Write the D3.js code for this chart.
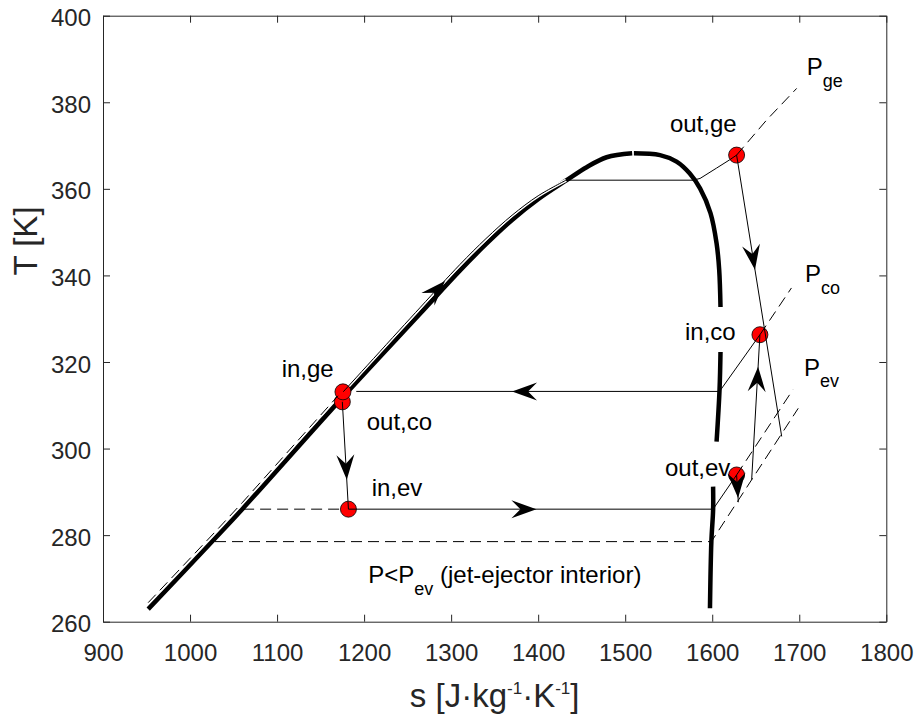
<!DOCTYPE html>
<html lang="en">
<head>
<meta charset="UTF-8">
<title>T-s diagram of the jet-ejector cycle</title>
<script src="https://d3js.org/d3.v7.min.js"></script>
<style>
  body { margin: 0; background: #fff; }
  svg text { font-family: "Liberation Sans", Arial, Helvetica, sans-serif; }
  .axis .domain, .axis line { stroke: #262626; stroke-width: 1; }
  .axis text { font-size: 24px; fill: #262626; }
</style>
</head>
<body>
<svg width="920" height="719"></svg>
<script>
// ---- data, s in J/(kg K), T in K ----
const sTicks = [900, 1000, 1100, 1200, 1300, 1400, 1500, 1600, 1700, 1800];
const tTicks = [260, 280, 300, 320, 340, 360, 380, 400];

// saturation dome (null = gap in the curve)
const satLiquid = [[951.9,262.9],[1030,279.5],[1060,286.0],[1176,312.0],[1264,331.1],[1310,341.1],[1340,347.2],
                   [1370,352.8],[1400,357.6],[1432.7,362.0],[1455.7,365.0],[1478.7,367.3],[1508,368.2]];
const satVapor = [[1510,368.2],[1540,367.8],[1559,366.3],[1574,363.6],[1586,360.1],[1598,354.4],[1605,347.4],
                  [1608,341.3],[1609.5,332.7],null,[1609.5,322.3],[1608.4,313.6],[1605,301.6],null,
                  [1601,291.2],[1601,285.8],[1599,278.5],[1597.4,263.1]];

// isobars
const pgeLiquid = [[1176,313.1],[1264,332.5],[1310,342.5],[1340,348.5],[1370,353.9],[1400,358.4],[1432,362.0]];
const pgeSolid = [[1432,362.0],[1578,362.0],[1586,362.4],[1605,364.8],[1620,366.7],[1628,367.8]];
const pgeDashed = [[1628,367.8],[1662.5,375.9],[1697,383.2]];
const liquidDashed = [[951.9,264.4],[1030,281.0],[1060,287.5],[1170,312.2]];
const pcoSolid = [[1191,313.2],[1608.4,313.2],[1654.8,326.3]];
const pcoDashed = [[1654.8,326.3],[1691,337.1]];
const pevDashedLeft = [[1061,286.0],[1172,286.0]];
const pevSolid = [[1182,286.0],[1601,286.0],[1628,293.9]];
const pevDashed = [[1628,293.9],[1692.7,313.6]];
const pLowDashed = [[1028.7,278.5],[1599,278.5],[1698.8,309.3]];

// process lines
const throttle = [[1175,310.8],[1182,286.0]];
const nozzle = [[1628,367.8],[1679.8,302.8]];
const suction = [[1628,293.9],[1630,287.6]];
const diffuser = [[1645.3,292.8],[1654.8,326.3]];

// arrow heads: tip and a point behind it on the same line
const arrows = [
  {tip:[1293,338.7], from:[1264,332.5]},
  {tip:[1649.1,341.3], from:[1628,367.8]},
  {tip:[1652.7,318.9], from:[1645.3,292.8]},
  {tip:[1180.1,292.8], from:[1175,310.8]},
  {tip:[1629.7,288.6], from:[1628,293.9]},
  {tip:[1370,313.2], from:[1450,313.2]},
  {tip:[1398,286.0], from:[1300,286.0]}
];

// cycle states (out,co first so in,ge sits on top)
const states = [
  {name:"out,co", s:1175, T:310.8},
  {name:"in,ge", s:1175.7, T:313.1},
  {name:"out,ge", s:1628, T:367.8},
  {name:"in,co", s:1654.8, T:326.3},
  {name:"in,ev", s:1182, T:286.0},
  {name:"out,ev", s:1628, T:293.9}
];

// text labels, anchored at left end of baseline
const labels = [
  {s:1551.4, T:373.2, main:"out,ge"},
  {s:1568.7, T:325.1, main:"in,co"},
  {s:1105.3, T:316.6, main:"in,ge"},
  {s:1203, T:304.2, main:"out,co"},
  {s:1208.7, T:289.0, main:"in,ev"},
  {s:1545.7, T:293.7, main:"out,ev"},
  {s:1708.5, T:386.3, main:"P", sub:"ge"},
  {s:1706.5, T:338.4, main:"P", sub:"co"},
  {s:1705.4, T:316.8, main:"P", sub:"ev"},
  {s:1204.8, T:268.9, main:"P<P", sub:"ev", tail:" (jet-ejector interior)"}
];

// ---- chart ----
const svg = d3.select("svg");
svg.append("rect").attr("width", 920).attr("height", 719).attr("fill", "#fff");

const x = d3.scaleLinear().domain([900, 1800]).range([103, 886.3]);
const y = d3.scaleLinear().domain([260, 400]).range([621.7, 15.7]);

// axes box with inward ticks
svg.append("g").attr("class", "axis")
    .attr("transform", `translate(0,${y(260)})`)
    .call(d3.axisBottom(x).tickValues(sTicks).tickFormat(d3.format("d"))
        .tickSizeInner(-7).tickSizeOuter(0).tickPadding(22));
svg.append("g").attr("class", "axis")
    .attr("transform", `translate(0,${y(400)})`)
    .call(d3.axisTop(x).tickValues(sTicks).tickSizeInner(-7).tickSizeOuter(0).tickFormat(""));
svg.append("g").attr("class", "axis y-left")
    .attr("transform", `translate(${x(900)},0)`)
    .call(d3.axisLeft(y).tickValues(tTicks).tickFormat(d3.format("d"))
        .tickSizeInner(-7).tickSizeOuter(0).tickPadding(12));
svg.selectAll(".y-left text").attr("dy", "0.42em");
svg.append("g").attr("class", "axis")
    .attr("transform", `translate(${x(1800)},0)`)
    .call(d3.axisRight(y).tickValues(tTicks).tickSizeInner(-7).tickSizeOuter(0).tickFormat(""));

// axis labels
const xl = svg.append("text")
    .attr("x", (x(900) + x(1800)) / 2).attr("y", 707)
    .attr("text-anchor", "middle").attr("font-size", 33).attr("fill", "#262626");
xl.append("tspan").text("s [J\u00b7kg");
xl.append("tspan").attr("dy", -13).attr("font-size", 17).text("-1");
xl.append("tspan").attr("dy", 13).text("\u00b7K");
xl.append("tspan").attr("dy", -13).attr("font-size", 17).text("-1");
xl.append("tspan").attr("dy", 13).text("]");

svg.append("text")
    .attr("transform", "translate(37,241) rotate(-90)")
    .attr("text-anchor", "middle").attr("font-size", 33).attr("fill", "#262626")
    .text("T [K]");

const line = d3.line()
    .defined(d => d !== null)
    .x(d => x(d[0]))
    .y(d => y(d[1]));
const smooth = d3.line()
    .defined(d => d !== null)
    .curve(d3.curveCatmullRom.alpha(0.5))
    .x(d => x(d[0]))
    .y(d => y(d[1]));

// thick saturation dome
[satLiquid, satVapor].forEach(pts => {
  svg.append("path").datum(pts)
      .attr("d", smooth)
      .attr("fill", "none").attr("stroke", "#000")
      .attr("stroke-width", 4.5).attr("stroke-linejoin", "round");
});

// white halo under the compressed-liquid isobars
svg.append("path").datum(pgeLiquid).attr("d", smooth)
    .attr("fill", "none").attr("stroke", "#fff").attr("stroke-width", 3.5);
svg.append("path").datum(liquidDashed).attr("d", line)
    .attr("fill", "none").attr("stroke", "#fff").attr("stroke-width", 3.5)
    .attr("stroke-dasharray", "11,6");

// state points
svg.selectAll(".state")
  .data(states)
  .enter().append("circle")
    .attr("class", "state")
    .attr("cx", d => x(d.s))
    .attr("cy", d => y(d.T))
    .attr("r", 8)
    .attr("fill", "#ff0000")
    .attr("stroke", "#000")
    .attr("stroke-width", 0.8);

// thin lines
svg.append("path").datum(pgeLiquid).attr("d", smooth)
    .attr("fill", "none").attr("stroke", "#000").attr("stroke-width", 1);

const solid = [pgeSolid, pcoSolid, pevSolid, throttle, nozzle, suction, diffuser];
const dashed = [pgeDashed, liquidDashed, pcoDashed, pevDashedLeft, pevDashed, pLowDashed];

solid.forEach(pts => {
  svg.append("path").datum(pts).attr("d", line)
      .attr("fill", "none").attr("stroke", "#000").attr("stroke-width", 1);
});
dashed.forEach(pts => {
  svg.append("path").datum(pts).attr("d", line)
      .attr("fill", "none").attr("stroke", "#000").attr("stroke-width", 1)
      .attr("stroke-dasharray", "11,6");
});

// arrow heads
arrows.forEach(a => {
  const tx = x(a.tip[0]), ty = y(a.tip[1]);
  const ang = Math.atan2(ty - y(a.from[1]), tx - x(a.from[0])) * 180 / Math.PI;
  svg.append("path")
      .attr("d", "M0,0L-25,-9L-16,0L-25,9Z")
      .attr("transform", `translate(${tx},${ty}) rotate(${ang})`)
      .attr("fill", "#000");
});

// labels
labels.forEach(l => {
  const t = svg.append("text")
      .attr("x", x(l.s)).attr("y", y(l.T))
      .attr("font-size", 24).attr("fill", "#000");
  t.append("tspan").text(l.main);
  if (l.sub) t.append("tspan").attr("dy", 11.5).attr("font-size", 18).text(l.sub);
  if (l.tail) t.append("tspan").attr("dy", -11.5).text(l.tail);
});
</script>
</body>
</html>
